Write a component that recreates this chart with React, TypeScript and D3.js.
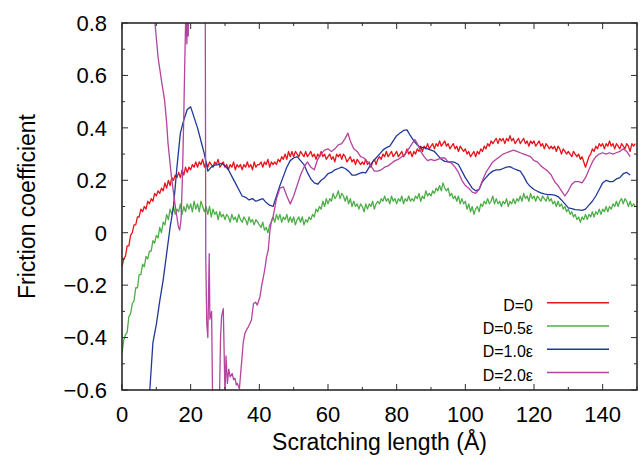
import React from "react";
import * as d3 from "d3";

// ---- data ----
const seriesNames = ["D=0", "D=0.5\u03b5", "D=1.0\u03b5", "D=2.0\u03b5"];
const seriesColors = ["#e8141c", "#4dae48", "#20389a", "#b4449f"];

const xTicks = [0, 20, 40, 60, 80, 100, 120, 140];
const yTicks = [-0.6, -0.4, -0.2, 0, 0.2, 0.4, 0.6, 0.8];
const yTickLabels = ["\u22120.6", "\u22120.4", "\u22120.2", "0", "0.2", "0.4", "0.6", "0.8"];

// D=0 sampled every 0.5 Å from 0
const redStep = 0.5;
const redY = [
  -0.13,-0.10,-0.09,-0.05,-0.05,-0.01,0.00,0.03,0.03,0.06,
  0.06,0.09,0.08,0.10,0.09,0.12,0.11,0.13,0.12,0.15,
  0.14,0.16,0.15,0.17,0.16,0.19,0.17,0.20,0.18,0.21,
  0.20,0.22,0.21,0.23,0.21,0.24,0.22,0.25,0.23,0.25,
  0.24,0.26,0.25,0.27,0.25,0.27,0.26,0.28,0.25,0.27,
  0.25,0.27,0.26,0.25,0.27,0.26,0.28,0.25,0.26,0.27,
  0.25,0.26,0.24,0.26,0.25,0.27,0.24,0.26,0.25,0.26,
  0.24,0.26,0.25,0.27,0.25,0.26,0.24,0.27,0.25,0.26,
  0.26,0.27,0.25,0.27,0.26,0.28,0.25,0.27,0.26,0.27,
  0.26,0.28,0.27,0.29,0.28,0.30,0.28,0.31,0.29,0.31,
  0.29,0.31,0.30,0.29,0.31,0.30,0.29,0.31,0.29,0.30,
  0.31,0.29,0.30,0.28,0.30,0.29,0.31,0.29,0.30,0.28,
  0.29,0.30,0.28,0.29,0.27,0.30,0.29,0.30,0.28,0.30,
  0.29,0.27,0.28,0.29,0.27,0.28,0.26,0.28,0.27,0.26,
  0.27,0.26,0.28,0.26,0.27,0.25,0.27,0.28,0.26,0.28,
  0.29,0.28,0.30,0.29,0.31,0.29,0.30,0.31,0.29,0.30,
  0.31,0.29,0.30,0.31,0.29,0.30,0.32,0.30,0.31,0.29,
  0.31,0.30,0.32,0.31,0.33,0.31,0.33,0.32,0.34,0.32,
  0.33,0.34,0.32,0.34,0.33,0.35,0.33,0.34,0.35,0.33,
  0.34,0.32,0.33,0.34,0.32,0.33,0.31,0.33,0.32,0.31,
  0.32,0.30,0.31,0.29,0.30,0.31,0.29,0.31,0.30,0.32,
  0.31,0.33,0.32,0.34,0.33,0.35,0.34,0.35,0.36,0.34,
  0.36,0.35,0.36,0.34,0.36,0.35,0.37,0.35,0.36,0.34,
  0.35,0.36,0.34,0.35,0.36,0.34,0.35,0.33,0.35,0.34,
  0.35,0.33,0.34,0.35,0.33,0.34,0.32,0.34,0.33,0.32,
  0.33,0.32,0.33,0.31,0.33,0.32,0.30,0.32,0.31,0.30,
  0.31,0.30,0.29,0.31,0.30,0.29,0.30,0.28,0.29,0.27,
  0.25,0.27,0.29,0.30,0.32,0.31,0.33,0.32,0.34,0.33,
  0.34,0.32,0.34,0.33,0.35,0.33,0.34,0.32,0.34,0.33,
  0.32,0.34,0.33,0.32,0.34,0.33,0.31,0.34,0.33,0.34,
];

// D=0.5ε sampled every 0.5 Å from 0
const greenStep = 0.5;
const greenY = [
  -0.46,-0.41,-0.39,-0.38,-0.32,-0.31,-0.27,-0.26,-0.21,-0.21,
  -0.16,-0.16,-0.12,-0.13,-0.09,-0.10,-0.07,-0.07,-0.03,-0.04,
  -0.01,-0.02,0.02,0.00,0.04,0.03,0.07,0.05,0.09,0.07,
  0.10,0.07,0.09,0.08,0.11,0.07,0.10,0.08,0.11,0.09,
  0.11,0.08,0.12,0.09,0.11,0.08,0.12,0.10,0.08,0.10,
  0.07,0.10,0.06,0.09,0.07,0.08,0.05,0.08,0.06,0.07,
  0.05,0.07,0.06,0.04,0.07,0.05,0.06,0.04,0.07,0.05,
  0.04,0.06,0.05,0.03,0.06,0.04,0.05,0.03,0.05,0.04,
  0.03,0.02,0.04,0.01,0.02,0.00,0.03,0.04,0.06,0.04,
  0.07,0.05,0.07,0.04,0.06,0.05,0.07,0.04,0.06,0.04,
  0.06,0.03,0.05,0.06,0.04,0.06,0.03,0.05,0.04,0.06,
  0.05,0.07,0.06,0.09,0.08,0.10,0.09,0.12,0.10,0.13,
  0.11,0.13,0.12,0.15,0.13,0.14,0.16,0.13,0.15,0.14,
  0.12,0.14,0.11,0.13,0.10,0.12,0.10,0.11,0.09,0.11,
  0.10,0.08,0.11,0.09,0.11,0.10,0.12,0.09,0.11,0.12,
  0.11,0.13,0.12,0.14,0.12,0.13,0.11,0.14,0.12,0.13,
  0.11,0.13,0.12,0.14,0.11,0.13,0.12,0.14,0.12,0.13,
  0.12,0.14,0.13,0.15,0.12,0.14,0.13,0.16,0.14,0.15,
  0.14,0.16,0.15,0.17,0.16,0.18,0.16,0.19,0.17,0.16,
  0.17,0.14,0.15,0.13,0.14,0.12,0.14,0.11,0.13,0.11,
  0.12,0.09,0.11,0.08,0.10,0.07,0.09,0.10,0.08,0.11,
  0.10,0.12,0.11,0.13,0.11,0.12,0.14,0.11,0.13,0.11,
  0.12,0.10,0.12,0.11,0.13,0.10,0.12,0.11,0.13,0.11,
  0.13,0.12,0.14,0.12,0.15,0.13,0.14,0.12,0.15,0.13,
  0.14,0.12,0.14,0.13,0.12,0.14,0.13,0.12,0.14,0.12,
  0.13,0.11,0.12,0.10,0.12,0.10,0.11,0.09,0.10,0.08,
  0.09,0.07,0.08,0.06,0.07,0.05,0.06,0.04,0.06,0.05,
  0.07,0.05,0.07,0.06,0.08,0.06,0.08,0.07,0.09,0.07,
  0.09,0.08,0.10,0.08,0.10,0.09,0.11,0.10,0.12,0.10,
  0.12,0.13,0.11,0.13,0.12,0.10,0.12,0.10,0.11,0.10,
];

// D=1.0ε sampled every 1 Å from 7 Å
const blueStart = 7;
const blueStep = 1;
const blueY = [
  -0.72,-0.62,-0.42,-0.35,-0.26,-0.18,-0.08,0.02,0.10,0.25,
  0.38,0.43,0.47,0.48,0.44,0.40,0.35,0.30,0.235,0.25,
  0.258,0.26,0.265,0.255,0.24,0.215,0.19,0.165,0.14,0.135,
  0.125,0.13,0.12,0.125,0.13,0.115,0.105,0.10,0.14,0.18,
  0.215,0.25,0.275,0.285,0.29,0.275,0.26,0.23,0.205,0.19,
  0.185,0.20,0.21,0.225,0.23,0.24,0.245,0.25,0.245,0.235,
  0.22,0.22,0.225,0.23,0.228,0.25,0.27,0.285,0.30,0.315,
  0.325,0.33,0.35,0.37,0.38,0.39,0.392,0.37,0.35,0.335,
  0.325,0.325,0.32,0.315,0.31,0.295,0.28,0.272,0.27,0.27,
  0.268,0.26,0.235,0.21,0.19,0.17,0.16,0.165,0.195,0.21,
  0.225,0.235,0.24,0.24,0.245,0.25,0.252,0.245,0.24,0.235,
  0.215,0.19,0.175,0.165,0.158,0.152,0.148,0.145,0.145,0.143,
  0.138,0.125,0.11,0.095,0.092,0.088,0.087,0.085,0.09,0.105,
  0.12,0.14,0.165,0.19,0.20,0.195,0.195,0.205,0.21,0.225,
  0.23,0.22,
];

// D=2.0ε, irregular sampling
const magentaX = [
  8.8, 9.6, 10.5, 11.5, 12.4, 13.0, 13.4, 14.4, 15.4, 16.0, 16.4, 16.8, 17.2, 17.6, 18.0, 18.3,
  18.6, 18.9, 19.1, 19.3, 19.5, 20.5, 22.0, 23.5, 24.2, 24.4, 24.7, 25.0, 25.4, 25.6, 25.9, 26.1,
  26.4, 28.3, 28.7, 29.0, 29.5, 30.0, 30.3, 30.7, 31.1, 31.5, 32.1, 32.5, 32.9, 33.3, 33.6, 34.2,
  34.6, 34.9, 35.3, 35.8, 36.3, 36.8, 37.3, 37.7, 38.3, 38.9, 39.4, 40.2, 40.7, 41.2, 41.7, 42.1,
  42.6, 43.1, 43.6, 44, 45, 46, 47, 48, 49, 50, 51, 52, 53, 54, 55, 56,
  57, 58, 59, 60, 61, 62, 63, 64, 65, 65.8, 66.5, 67.5, 68.5, 69.5, 70.5, 71.5,
  72.5, 73.5, 74.5, 75.5, 76.5, 77.5, 78.5, 79.5, 80.5, 81.5, 82.5, 83.5, 84.5, 85.3, 86, 87,
  88, 89, 90, 91, 92, 93, 94, 95, 96, 97, 98, 99, 100, 101, 102, 103,
  104, 105, 106, 107, 108, 109, 110, 111, 112, 113, 114, 115, 116, 117, 118, 119,
  120, 121, 122, 123, 124, 125, 126, 127, 128, 129, 130, 131, 132, 133, 134, 135,
  136, 137, 138, 139, 140, 141, 142, 143, 144, 145, 146, 147, 148,
];
const magentaY = [
  1.3, 0.8, 0.67, 0.58, 0.506, 0.42, 0.342, 0.214, 0.113, 0.06, 0.023, 0.01, 0.05, 0.21, 0.45, 0.66,
  0.85, 0.72, 1.1, 0.75, 1.2, 1.6, 1.8, 1.6, 1.2, -0.1, -0.35, -0.40, -0.08, -0.33, -0.31, -0.30,
  -0.65, -0.7, -0.40, -0.32, -0.29, -0.62, -0.47, -0.575, -0.52, -0.55, -0.537, -0.56, -0.555, -0.58, -0.575, -0.595,
  -0.53, -0.486, -0.42, -0.384, -0.37, -0.359, -0.345, -0.333, -0.27, -0.265, -0.276, -0.244, -0.2, -0.168, -0.13, -0.092,
  -0.066, 0.01, 0.048, 0.06, 0.13, 0.17, 0.175, 0.14, 0.11, 0.14, 0.18, 0.22, 0.25, 0.27, 0.25, 0.24,
  0.28, 0.30, 0.315, 0.32, 0.31, 0.32, 0.335, 0.34, 0.36, 0.38, 0.35, 0.32, 0.31, 0.29, 0.285, 0.27,
  0.255, 0.235, 0.235, 0.24, 0.25, 0.255, 0.265, 0.275, 0.28, 0.29, 0.30, 0.32, 0.34, 0.355, 0.34, 0.31,
  0.29, 0.275, 0.28, 0.275, 0.28, 0.285, 0.285, 0.27, 0.265, 0.25, 0.23, 0.20, 0.18, 0.17, 0.155, 0.15,
  0.165, 0.20, 0.23, 0.25, 0.27, 0.28, 0.29, 0.30, 0.305, 0.31, 0.315, 0.31, 0.305, 0.30, 0.295, 0.29,
  0.275, 0.27, 0.255, 0.245, 0.235, 0.22, 0.195, 0.18, 0.16, 0.14, 0.16, 0.185, 0.195, 0.195, 0.19, 0.21,
  0.24, 0.27, 0.29, 0.30, 0.305, 0.30, 0.305, 0.30, 0.305, 0.31, 0.32, 0.31, 0.29,
];

// ---- layout ----
const W = 641, H = 461;
const L = 122, R = 637, T = 23, B = 390;
const FONT = "'Liberation Sans', Arial, Helvetica, sans-serif";

export default function App() {
  const x = d3.scaleLinear().domain([0, 150]).range([L, R]);
  const y = d3.scaleLinear().domain([-0.6, 0.8]).range([B, T]);

  const line = d3.line<[number, number]>().x((d) => x(d[0])).y((d) => y(d[1]));

  const seriesPts: [number, number][][] = [
    redY.map((v, i) => [i * redStep, v] as [number, number]),
    greenY.map((v, i) => [i * greenStep, v] as [number, number]),
    blueY.map((v, i) => [blueStart + i * blueStep, v] as [number, number]),
    magentaX.map((v, i) => [v, magentaY[i]] as [number, number]),
  ];
  // draw order: red, green, blue, magenta
  const xMinor = d3.range(10, 151, 20);
  const yMinor = d3.range(-0.5, 0.8, 0.2);

  const majorLen = 6, minorLen = 3;
  const axisColor = "#2a2a2a";

  const legendX1 = 547, legendX2 = 609, legendTextX = 533;
  const legendY0 = 302.7, legendDy = 23.3;

  return (
    <svg
      width={W}
      height={H}
      style={{ position: "absolute", left: 0, top: 0, background: "#fff" }}
      fontFamily={FONT}
    >
      <defs>
        <clipPath id="plotClip">
          <rect x={L} y={T} width={R - L} height={B - T} />
        </clipPath>
      </defs>
      <rect x={0} y={0} width={W} height={H} fill="#fff" />

      <g clipPath="url(#plotClip)">
        {seriesPts.map((pts, i) => (
          <path
            key={i}
            d={line(pts) || ""}
            fill="none"
            stroke={seriesColors[i]}
            strokeWidth={1.3}
            strokeLinejoin="round"
          />
        ))}
      </g>

      {/* ticks */}
      <g stroke={axisColor} strokeWidth={1}>
        {xTicks.map((t) => (
          <g key={"xt" + t}>
            <line x1={x(t)} x2={x(t)} y1={B} y2={B - majorLen} />
            <line x1={x(t)} x2={x(t)} y1={T} y2={T + majorLen} />
          </g>
        ))}
        {xMinor.map((t) => (
          <g key={"xm" + t}>
            <line x1={x(t)} x2={x(t)} y1={B} y2={B - minorLen} />
            <line x1={x(t)} x2={x(t)} y1={T} y2={T + minorLen} />
          </g>
        ))}
        {yTicks.map((t) => (
          <g key={"yt" + t}>
            <line x1={L} x2={L + majorLen} y1={y(t)} y2={y(t)} />
            <line x1={R} x2={R - majorLen} y1={y(t)} y2={y(t)} />
          </g>
        ))}
        {yMinor.map((t) => (
          <g key={"ym" + t.toFixed(2)}>
            <line x1={L} x2={L + minorLen} y1={y(t)} y2={y(t)} />
            <line x1={R} x2={R - minorLen} y1={y(t)} y2={y(t)} />
          </g>
        ))}
      </g>

      <rect x={L} y={T} width={R - L} height={B - T} fill="none" stroke={axisColor} strokeWidth={1.6} />

      {/* tick labels */}
      <g fontSize={22} fill="#000">
        {xTicks.map((t) => (
          <text key={"xl" + t} x={x(t)} y={422} textAnchor="middle">
            {String(t)}
          </text>
        ))}
        {yTicks.map((t, i) => (
          <text key={"yl" + t} x={107} y={y(t) + 7.8} textAnchor="end">
            {yTickLabels[i]}
          </text>
        ))}
      </g>

      {/* axis titles */}
      <text x={(L + R) / 2} y={450} textAnchor="middle" fontSize={23} fill="#000">
        Scratching length (Å)
      </text>
      <text
        transform={`translate(35, ${(T + B) / 2}) rotate(-90)`}
        textAnchor="middle"
        fontSize={23}
        fill="#000"
      >
        Friction coefficient
      </text>

      {/* legend */}
      <g>
        {seriesNames.map((name, i) => {
          const ly = legendY0 + i * legendDy;
          return (
            <g key={name}>
              <text x={legendTextX} y={ly + 8} textAnchor="end" fontSize={16} fill="#000">
                {name}
              </text>
              <line x1={legendX1} x2={legendX2} y1={ly} y2={ly} stroke={seriesColors[i]} strokeWidth={1.5} />
            </g>
          );
        })}
      </g>
    </svg>
  );
}
